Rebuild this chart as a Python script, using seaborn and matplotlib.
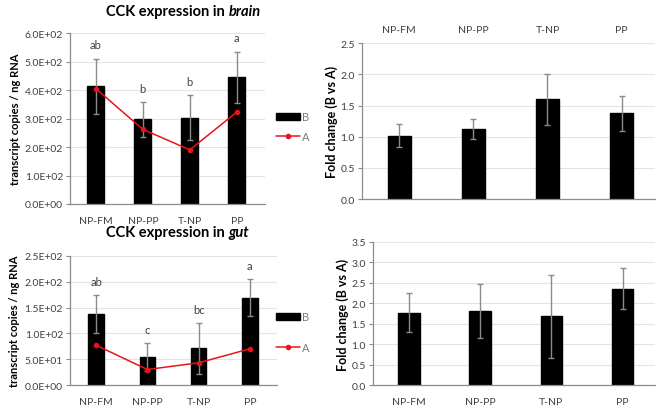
import numpy as np
import pandas as pd
import matplotlib
matplotlib.use("Agg")
import matplotlib.pyplot as plt
import seaborn as sns
from matplotlib.ticker import FuncFormatter, MultipleLocator
from matplotlib.patches import Patch
from matplotlib.lines import Line2D

groups = ["NP-FM", "NP-PP", "T-NP", "PP"]

# brain: transcript copies / ng RNA
brain_B = [413, 297, 303, 445]
brain_B_err = [97, 61, 80, 90]
brain_A = [405, 262, 190, 323]
brain_letters = ["ab", "b", "b", "a"]

# gut
gut_B = [137, 54, 71, 169]
gut_B_err = [37, 27, 49, 36]
gut_A = [77, 30, 43, 70]
gut_letters = ["ab", "c", "bc", "a"]

# fold change (B vs A)
brain_fold = [1.02, 1.12, 1.60, 1.38]
brain_fold_err = [0.19, 0.16, 0.41, 0.28]
gut_fold = [1.77, 1.82, 1.68, 2.36]
gut_fold_err = [0.48, 0.66, 1.02, 0.51]

sns.set_theme(style="white")
plt.rcParams["font.family"] = ["Lato", "DejaVu Sans"]

TXT = "#404040"
SPINE = "#8c8c8c"
GRID = "#e4e4e4"
ERR = "#8a8a8a"
RED = "#e8141c"


def style_axes(ax, ymax, step, fmt, xpad=8.5):
    ax.set_ylim(0, ymax)
    ax.yaxis.set_major_locator(MultipleLocator(step))
    ax.yaxis.set_major_formatter(FuncFormatter(fmt))
    ax.grid(axis="y", color=GRID, linewidth=0.8)
    ax.set_axisbelow(True)
    for s in ["top", "right"]:
        ax.spines[s].set_visible(False)
    for s in ["left", "bottom"]:
        ax.spines[s].set_color(SPINE)
        ax.spines[s].set_linewidth(0.9)
    ax.tick_params(axis="y", left=True, length=3, width=0.8, color=SPINE,
                   labelsize=7.5, labelcolor=TXT, pad=2)
    ax.tick_params(axis="x", bottom=False, length=0, labelsize=7.5,
                   labelcolor=TXT, pad=xpad)
    ax.set_xlabel("")


def bars(ax, vals, errs, width):
    df = pd.DataFrame({"group": groups, "value": vals})
    sns.barplot(data=df, x="group", y="value", color="black", width=width,
                saturation=1, edgecolor="black", ax=ax)
    x = np.arange(len(groups))
    ax.errorbar(x, vals, yerr=errs, fmt="none", ecolor=ERR, elinewidth=1,
                capsize=2.5, capthick=1, zorder=4)
    return x


sci = lambda v, p: f"{v:.1E}"
one = lambda v, p: f"{v:.1f}"

fig = plt.figure(figsize=(6.66, 4.10), dpi=100)

# tissue, B, err, A, letters, ymax, step, axes rect, xlim, bar width,
# title y (fig), legend y (fig), legend spacing
panels = [
    ("brain", brain_B, brain_B_err, brain_A, brain_letters, 600, 100,
     [0.105, 0.50, 0.293, 0.417], (-0.55, 3.6), 0.36, 0.971, 0.689, 0.75),
    ("gut", gut_B, gut_B_err, gut_A, gut_letters, 250, 50,
     [0.105, 0.0585, 0.311, 0.315], (-0.51, 3.53), 0.30, 0.432, 0.187, 1.8),
]

for tissue, B, Berr, A, letters, ymax, step, rect, xlim, w, ty, leg_y, lsp in panels:
    ax = fig.add_axes(rect)
    x = bars(ax, B, Berr, w)
    ax.plot(x, A, color=RED, marker="o", markersize=3, linewidth=1.1, zorder=5)
    for xi, top, lab in zip(x, np.array(B) + np.array(Berr), letters):
        ax.annotate(lab, (xi, top), xytext=(0, 6), textcoords="offset points",
                    ha="center", va="bottom", fontsize=8, color=TXT)
    style_axes(ax, ymax, step, sci)
    ax.set_xlim(*xlim)
    ax.set_ylabel("transcript copies / ng RNA", fontsize=8, fontweight="bold",
                  color="black", labelpad=3)
    fig.text(0.343, ty, "CCK expression in ", fontsize=10.5, fontweight="bold",
             ha="right", va="center", color="black")
    fig.text(0.343, ty, tissue, fontsize=10.5, fontweight="bold", style="italic",
             ha="left", va="center", color="black")
    handles = [Patch(facecolor="black", edgecolor="black"),
               Line2D([0], [0], color=RED, marker="o", markersize=3, linewidth=1.1)]
    fig.legend(handles, ["B", "A"], loc="center left", bbox_to_anchor=(0.414, leg_y),
               frameon=False, fontsize=8, labelcolor="#7a7a7a", handlelength=2.2,
               handleheight=0.7, handletextpad=0.2, labelspacing=lsp,
               borderpad=0, borderaxespad=0)

# fold change panels
ax = fig.add_axes([0.5435, 0.512, 0.44, 0.380])
bars(ax, brain_fold, brain_fold_err, 0.31)
style_axes(ax, 2.5, 0.5, one)
ax.set_xlim(-0.5, 3.45)
ax.xaxis.tick_top()
ax.tick_params(axis="x", top=False, length=0, pad=7)
ax.set_ylabel("Fold change (B vs A)", fontsize=9, fontweight="bold", color="black",
              labelpad=2)

ax = fig.add_axes([0.56, 0.0585, 0.423, 0.349])
bars(ax, gut_fold, gut_fold_err, 0.30)
style_axes(ax, 3.5, 0.5, one)
ax.set_xlim(-0.505, 3.45)
ax.set_ylabel("Fold change (B vs A)", fontsize=9, fontweight="bold", color="black",
              labelpad=2)

fig.savefig("out.png", dpi=100)
